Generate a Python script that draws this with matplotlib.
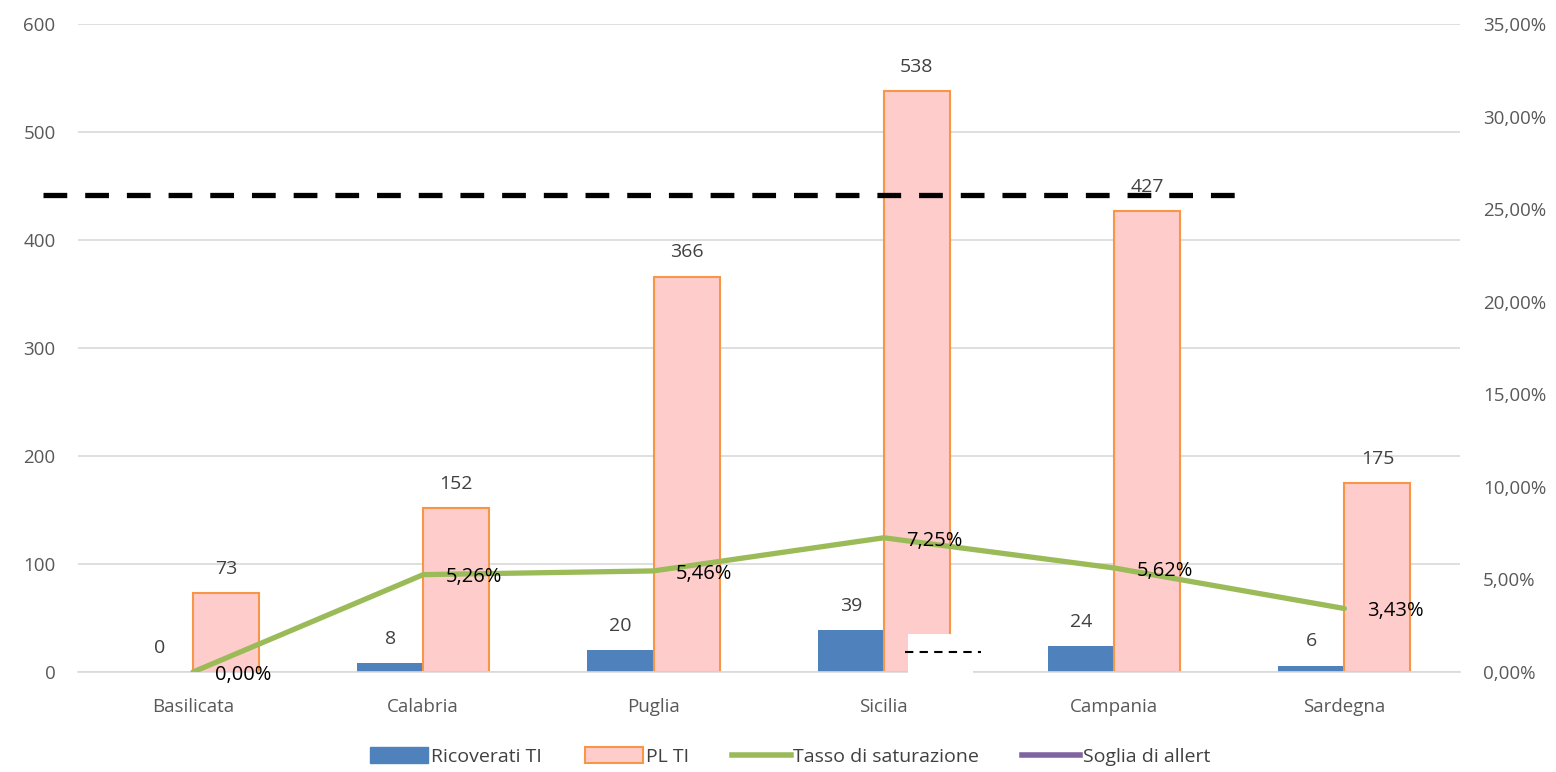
import numpy as np
import matplotlib.pyplot as plt
from matplotlib.lines import Line2D
from matplotlib.patches import Patch, Rectangle

# data
regioni = ['Basilicata', 'Calabria', 'Puglia', 'Sicilia', 'Campania', 'Sardegna']
ricoverati_ti = [0, 8, 20, 39, 24, 6]
pl_ti = [73, 152, 366, 538, 427, 175]
tasso_saturazione = [0.00, 5.26, 5.46, 7.25, 5.62, 3.43]
soglia_disegno = 442  # dashed threshold line drawn on the chart (left axis units)

plt.rcParams['font.family'] = ['Open Sans', 'DejaVu Sans']

fig = plt.figure(figsize=(15.56, 7.72), dpi=100)
ax = fig.add_axes([0.050, 0.1295, 0.888, 0.8395])
ax2 = ax.twinx()

x = np.arange(len(regioni))
w = 0.287

ax.bar(x - w / 2, ricoverati_ti, w, color='#4F81BD', zorder=2)
ax.bar(x + w / 2, pl_ti, w, color='#FFCCCC', edgecolor='#F79646', linewidth=1.5, zorder=2)

for xi, v in zip(x, ricoverati_ti):
    ax.annotate(str(v), (xi - w / 2, v), xytext=(0, 11), textcoords='offset points',
                ha='center', va='bottom', fontsize=14, color='#404040')
for xi, v in zip(x, pl_ti):
    ax.annotate(str(v), (xi + w / 2, v), xytext=(0, 11), textcoords='offset points',
                ha='center', va='bottom', fontsize=14, color='#404040')

ax.set_xlim(-0.5, len(regioni) - 0.5)
ax.set_ylim(0, 600)
ax.set_yticks(range(0, 601, 100))
ax.grid(axis='y', color='#D9D9D9', linewidth=1.2, zorder=0)
ax.set_axisbelow(True)
for s in ['top', 'left', 'right']:
    ax.spines[s].set_visible(False)
ax.spines['bottom'].set_color('#D9D9D9')
ax.spines['bottom'].set_linewidth(1.2)
ax.tick_params(axis='y', length=0, labelsize=13.5, labelcolor='#595959', pad=16)
ax.tick_params(axis='x', length=0, labelsize=13.5, labelcolor='#595959', pad=19)
ax.set_xticks(x)
ax.set_xticklabels(regioni)

# secondary axis: saturation line
ax2.plot(x, tasso_saturazione, color='#9BBB59', linewidth=3.8, zorder=3, solid_capstyle='round')
for xi, v in zip(x, tasso_saturazione):
    ax2.annotate(f'{v:.2f}%'.replace('.', ','), (xi, v), xytext=(16, -2),
                 textcoords='offset points', ha='left', va='center', fontsize=14.5, color='black')
ax2.set_ylim(0, 35)
ax2.set_yticks(range(0, 36, 5))
ax2.set_yticklabels([f'{t},00%' for t in range(0, 36, 5)])
for s in ax2.spines.values():
    s.set_visible(False)
ax2.tick_params(axis='y', length=0, labelsize=13.5, labelcolor='#595959', pad=17)

# drawn dashed threshold line and white box near Sicilia
ax.plot([-0.652, 4.565], [soglia_disegno, soglia_disegno], color='black', linewidth=3.8,
        dashes=(4.5, 3.4), clip_on=False, zorder=5, solid_capstyle='butt')
ax.add_patch(Rectangle((3.107, -17), 0.28, 52, facecolor='white', edgecolor='none',
                       clip_on=False, zorder=4))
ax.plot([3.09, 3.42], [19, 19], color='black', linewidth=1.5, dashes=(4, 3),
        clip_on=False, zorder=5)

handles = [Patch(facecolor='#4F81BD', edgecolor='#4F81BD'),
           Patch(facecolor='#FFCCCC', edgecolor='#F79646', linewidth=1.5),
           Line2D([0], [0], color='#9BBB59', linewidth=4),
           Line2D([0], [0], color='#8064A2', linewidth=4)]
labels = ['Ricoverati TI', 'PL TI', 'Tasso di saturazione', 'Soglia di allert']
fig.legend(handles, labels, loc='center', bbox_to_anchor=(0.508, 0.02), ncol=4, frameon=False,
           fontsize=14, handlelength=3.0, handleheight=0.9, handletextpad=0.15,
           columnspacing=2.2, labelcolor='#404040')

fig.savefig('out.png', dpi=100)
